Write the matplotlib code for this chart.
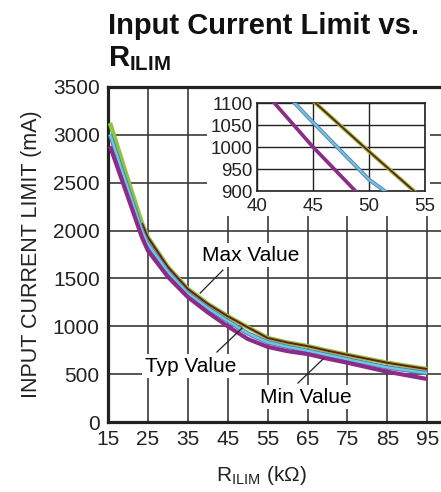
import numpy as np
import matplotlib
matplotlib.use("Agg")
import matplotlib.pyplot as plt
from matplotlib.patches import Rectangle

plt.rcParams['font.family'] = ['Liberation Sans', 'DejaVu Sans']
plt.rcParams['mathtext.fontset'] = 'custom'
plt.rcParams['mathtext.rm'] = 'Liberation Sans'
plt.rcParams['mathtext.bf'] = 'Liberation Sans:bold'

# R_ILIM in kOhm and input current limit in mA
r_ilim = [15.5, 20, 23.5, 25, 30, 35, 40, 45, 50, 55, 60, 65, 70, 75, 80, 85, 90, 95]
i_max = [3125, 2530, 2077, 1930, 1620, 1390, 1235, 1105, 990, 878, 830, 793, 745, 702, 660, 619, 585, 553]
i_typ = [3006, 2440, 2000, 1860, 1570, 1345, 1190, 1056, 926, 833, 785, 744, 700, 655, 612, 570, 540, 511]
i_min = [2881, 2349, 1930, 1790, 1517, 1305, 1145, 1000, 868, 785, 740, 710, 662, 619, 572, 525, 487, 449]
max_start = 2  # dark red core of the max curve starts at 23.5 kOhm

x_ticks = [15, 25, 35, 45, 55, 65, 75, 85, 95]
y_ticks = [0, 500, 1000, 1500, 2000, 2500, 3000, 3500]
inset_x_ticks = [40, 45, 50, 55]
inset_y_ticks = [900, 950, 1000, 1050, 1100]

c_green = '#8cc63f'
c_maroon = '#6e1a14'
c_steel = '#5b78b4'
c_light = '#6cc8dd'
c_purple = '#8e2b88'
grid_c = '#3a3a3a'

fig = plt.figure(figsize=(4.41, 4.92), dpi=100)
ax = fig.add_axes([108 / 441, 1 - 422 / 492, 1 - 108 / 441, 335 / 492])

ax.set_xlim(15, 98.45)
ax.set_ylim(0, 3500)
ax.set_xticks(x_ticks)
ax.set_yticks(y_ticks)
ax.tick_params(length=0, labelsize=15, pad=6, colors='#222222')
ax.grid(True, color=grid_c, linewidth=1.2)
ax.set_axisbelow(True)
for side in ['left', 'bottom', 'top']:
    ax.spines[side].set_linewidth(2.3)
    ax.spines[side].set_color('#222222')
ax.spines['right'].set_visible(False)

# white area behind the inset
ax.add_patch(Rectangle((0.297, 0.615), 0.67, 0.38, transform=ax.transAxes,
                       facecolor='white', edgecolor='none', zorder=1.5))

def draw_curves(a, lw):
    a.plot(r_ilim, i_max, color=c_green, linewidth=lw * 1.25, zorder=3, solid_capstyle='butt')
    a.plot(r_ilim[max_start:], i_max[max_start:], color=c_maroon, linewidth=lw * 0.55, zorder=3.1,
           solid_capstyle='butt')
    a.plot(r_ilim, i_typ, color=c_steel, linewidth=lw * 1.2, zorder=3.2, solid_capstyle='butt')
    a.plot(r_ilim, i_typ, color=c_light, linewidth=lw * 0.65, zorder=3.3, solid_capstyle='butt')
    a.plot(r_ilim, i_min, color=c_purple, linewidth=lw * 1.15, zorder=3.4, solid_capstyle='butt')

draw_curves(ax, 2.6)

box = dict(facecolor='white', edgecolor='none', pad=2)
ax.text(50.8, 1743, 'Max Value', fontsize=15, ha='center', va='center', bbox=box, zorder=4)
ax.plot([43.8, 38.1], [1587, 1347], color='#222222', linewidth=0.9, zorder=4)
ax.text(35.7, 585, 'Typ Value', fontsize=15, ha='center', va='center', bbox=box, zorder=4)
ax.plot([42.3, 48.6], [731, 981], color='#222222', linewidth=0.9, zorder=4)
ax.text(64.6, 261, 'Min Value', fontsize=15, ha='center', va='center', bbox=box, zorder=4)
ax.plot([62.6, 68.9], [407, 658], color='#222222', linewidth=0.9, zorder=4)

ax.set_ylabel('INPUT CURRENT LIMIT (mA)', fontsize=15.5, color='#222222', labelpad=8)
ax.set_xlabel(r'R$_{\mathrm{ILIM}}$ (k$\Omega$)', fontsize=15, color='#222222')
ax.xaxis.set_label_coords(0.46, -0.125)

# inset zoom
ins = fig.add_axes([257 / 441, 1 - 191 / 492, 168 / 441, 88 / 492])
ins.set_xlim(40, 55)
ins.set_ylim(900, 1100)
ins.set_xticks(inset_x_ticks)
ins.set_yticks(inset_y_ticks)
ins.tick_params(length=0, labelsize=13.5, colors='#222222')
ins.tick_params(axis='x', pad=5)
ins.tick_params(axis='y', pad=3)
ins.grid(True, color='#222222', linewidth=1.0)
ins.set_axisbelow(True)
for s in ins.spines.values():
    s.set_linewidth(1.2)
    s.set_color('#222222')
draw_curves(ins, 2.3)

fig.text(108 / 441, 1 - 34 / 492, 'Input Current Limit vs.', fontsize=21, fontweight='bold',
         ha='left', va='baseline', color='#111111')
fig.text(108 / 441, 1 - 66 / 492, r'$\mathbf{R_{ILIM}}$', fontsize=21,
         ha='left', va='baseline', color='#111111')

fig.savefig('out.png', dpi=100)
